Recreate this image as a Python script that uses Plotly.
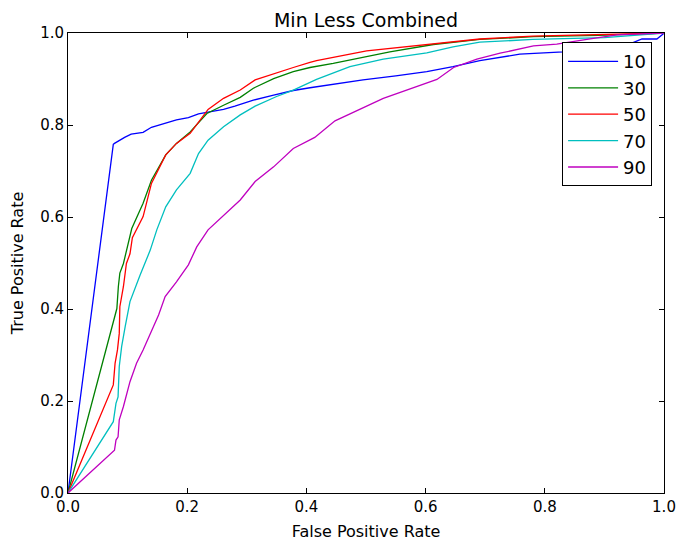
import plotly.graph_objects as go

# ROC curves for each threshold setting
labels = ["10", "30", "50", "70", "90"]
colors = ["#0000ff", "#008000", "#ff0000", "#00bfbf", "#bf00bf"]

fpr_10 = [0, 0.076, 0.078, 0.083, 0.095, 0.106, 0.126, 0.140, 0.160, 0.182, 0.202, 0.219, 0.235,
          0.261, 0.280, 0.311, 0.345, 0.378, 0.406, 0.445, 0.495, 0.550, 0.602, 0.646, 0.691,
          0.758, 0.831, 0.900, 0.948, 0.963, 0.988, 0.998, 1.0]
tpr_10 = [0, 0.758, 0.760, 0.764, 0.773, 0.780, 0.784, 0.795, 0.803, 0.811, 0.816, 0.824, 0.828,
          0.834, 0.841, 0.854, 0.865, 0.875, 0.881, 0.889, 0.898, 0.907, 0.916, 0.927, 0.940,
          0.954, 0.959, 0.966, 0.979, 0.987, 0.987, 0.997, 1.0]

fpr_30 = [0, 0.076, 0.082, 0.0845, 0.087, 0.093, 0.098, 0.107, 0.126, 0.140, 0.164, 0.182, 0.205,
          0.233, 0.261, 0.289, 0.311, 0.345, 0.378, 0.406, 0.445, 0.540, 0.613, 0.691, 0.781,
          0.890, 1.0]
tpr_30 = [0, 0.376, 0.401, 0.449, 0.478, 0.499, 0.528, 0.575, 0.630, 0.680, 0.735, 0.760, 0.785,
          0.825, 0.843, 0.860, 0.880, 0.901, 0.916, 0.925, 0.934, 0.959, 0.975, 0.986, 0.992,
          0.995, 1.0]

fpr_50 = [0, 0.076, 0.079, 0.083, 0.086, 0.087, 0.093, 0.098, 0.104, 0.108, 0.126, 0.140, 0.164,
          0.182, 0.205, 0.221, 0.235, 0.261, 0.289, 0.314, 0.350, 0.378, 0.406, 0.417, 0.501,
          0.613, 0.691, 0.780, 0.900, 1.0]
tpr_50 = [0, 0.235, 0.282, 0.311, 0.347, 0.405, 0.449, 0.499, 0.520, 0.555, 0.601, 0.673, 0.735,
          0.760, 0.782, 0.811, 0.834, 0.858, 0.876, 0.898, 0.914, 0.925, 0.936, 0.940, 0.961,
          0.976, 0.987, 0.993, 0.996, 1.0]

fpr_70 = [0, 0.076, 0.0805, 0.084, 0.086, 0.090, 0.096, 0.104, 0.121, 0.138, 0.149, 0.164, 0.182,
          0.205, 0.219, 0.235, 0.261, 0.289, 0.314, 0.350, 0.378, 0.417, 0.473, 0.529, 0.602,
          0.646, 0.691, 0.780, 0.900, 1.0]
tpr_70 = [0, 0.155, 0.195, 0.209, 0.275, 0.318, 0.362, 0.416, 0.474, 0.528, 0.572, 0.622, 0.659,
          0.695, 0.738, 0.767, 0.796, 0.822, 0.841, 0.862, 0.876, 0.899, 0.927, 0.943, 0.957,
          0.970, 0.980, 0.986, 0.990, 1.0]

fpr_90 = [0, 0.078, 0.0805, 0.084, 0.086, 0.093, 0.104, 0.115, 0.126, 0.138, 0.152, 0.163, 0.182,
          0.202, 0.216, 0.235, 0.261, 0.289, 0.314, 0.345, 0.378, 0.414, 0.448, 0.529, 0.619,
          0.647, 0.686, 0.725, 0.781, 0.820, 0.876, 0.921, 1.0]
tpr_90 = [0, 0.093, 0.115, 0.122, 0.159, 0.188, 0.242, 0.282, 0.311, 0.347, 0.387, 0.427, 0.459,
          0.496, 0.535, 0.572, 0.604, 0.637, 0.677, 0.709, 0.749, 0.773, 0.809, 0.858, 0.899,
          0.925, 0.943, 0.956, 0.972, 0.976, 0.987, 0.996, 1.0]

tick_vals = [0.0, 0.2, 0.4, 0.6, 0.8, 1.0]
tick_text = ["0.0", "0.2", "0.4", "0.6", "0.8", "1.0"]

curves = [(fpr_10, tpr_10), (fpr_30, tpr_30), (fpr_50, tpr_50), (fpr_70, tpr_70), (fpr_90, tpr_90)]

fig = go.Figure()
for (fx, ty), name, col in zip(curves, labels, colors):
    fig.add_trace(go.Scatter(x=fx, y=ty, mode="lines", name=name,
                             line=dict(color=col, width=1.3)))

axis_common = dict(
    range=[0, 1], tickvals=tick_vals, ticktext=tick_text,
    showgrid=False, zeroline=False, automargin=False,
    showline=True, linecolor="black", linewidth=1, mirror="ticks",
    ticks="inside", ticklen=5, tickcolor="black", tickwidth=1,
    tickfont=dict(size=15, color="black"),
)

fig.update_layout(
    width=681, height=546,
    margin=dict(l=68, r=17, t=33, b=53, autoexpand=False),
    paper_bgcolor="white", plot_bgcolor="white",
    font=dict(family="DejaVu Sans", color="black"),
    title=dict(text="Min Less Combined", x=0.5, xref="paper", xanchor="center",
               y=1 - 20 / 546, yanchor="middle", font=dict(size=19), automargin=False),
    xaxis=dict(title=dict(text="False Positive Rate", font=dict(size=16), standoff=10), **axis_common),
    yaxis=dict(title=dict(text="True Positive Rate", font=dict(size=16), standoff=12), **axis_common),
    legend=dict(x=0.829, y=0.98, xanchor="left", yanchor="top",
                bgcolor="white", bordercolor="black", borderwidth=1,
                font=dict(size=18), itemwidth=50, tracegroupgap=0),
    showlegend=True,
)

fig.write_html("out.html")
